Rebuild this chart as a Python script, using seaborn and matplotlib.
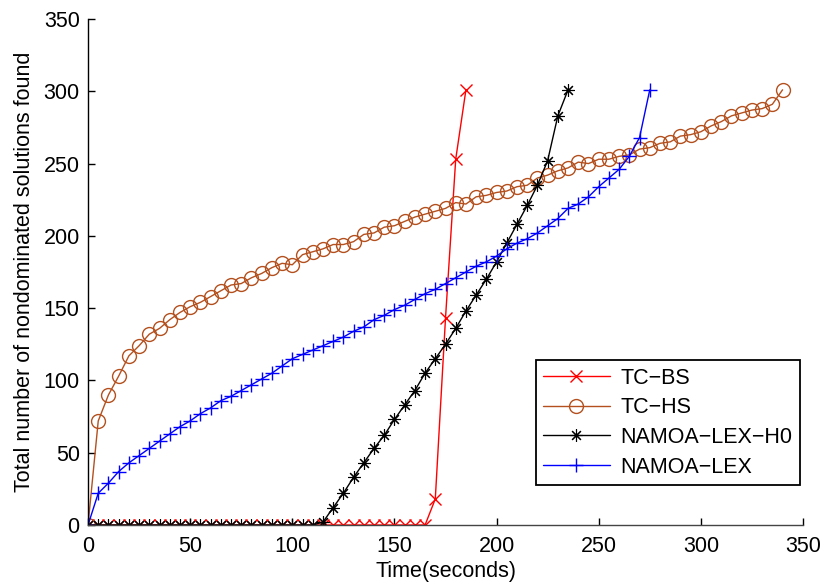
import numpy as np
import matplotlib
matplotlib.use("Agg")
import matplotlib.pyplot as plt
import seaborn as sns

# time axis of each run (sampled every 5 seconds)
tc_bs_time = np.arange(0, 190, 5)
tc_hs_time = np.arange(0, 345, 5)
h0_time = np.arange(0, 240, 5)
lex_time = np.arange(0, 280, 5)

# number of nondominated solutions found
tc_bs_vals = [0] * 34 + [18, 143, 253, 301]

tc_hs_vals = [0, 72, 90, 103, 117, 124, 132, 136, 142, 147,
              151, 154, 158, 162, 166, 167, 171, 174, 178, 181,
              180, 187, 189, 191, 194, 194, 196, 201, 202, 206,
              207, 210, 213, 215, 217, 219, 223, 222, 227, 228,
              230, 231, 234, 235, 240, 242, 245, 247, 251, 250,
              253, 253, 255, 256, 260, 261, 264, 265, 269, 270,
              272, 276, 279, 283, 285, 287, 288, 291, 301]

h0_vals = [0] * 23 + [2, 12, 22, 33, 43, 53, 62, 73, 83, 93,
                      105, 115, 125, 136, 148, 159, 170, 182, 195, 208,
                      221, 235, 252, 283, 301]

lex_vals = [0, 22, 29, 37, 43, 48, 53, 58, 63, 68,
            72, 77, 81, 86, 89, 93, 97, 101, 105, 110,
            115, 118, 121, 124, 127, 130, 134, 137, 142, 145,
            149, 152, 156, 160, 163, 167, 171, 175, 179, 182,
            186, 191, 195, 198, 202, 207, 212, 219, 222, 227,
            234, 240, 246, 255, 268, 301]

sns.set_style("ticks")
plt.rcParams['font.family'] = ['Liberation Sans', 'DejaVu Sans']
plt.rcParams['font.size'] = 15.5
plt.rcParams['text.color'] = 'black'
plt.rcParams['axes.labelcolor'] = 'black'
plt.rcParams['xtick.color'] = 'black'
plt.rcParams['ytick.color'] = 'black'

fig = plt.figure(figsize=(8.25, 5.84), dpi=100)
ax = fig.add_axes([0.1067, 0.101, 0.8666, 0.8665])

brown = '#b4501e'

sns.lineplot(x=tc_bs_time, y=tc_bs_vals, ax=ax, color='red', lw=1,
             marker='x', markersize=8, mec='red', mew=1, label='TC\u2212BS')
sns.lineplot(x=tc_hs_time, y=tc_hs_vals, ax=ax, color=brown, lw=1,
             marker='o', markersize=10, mfc='none', mec=brown, mew=1,
             label='TC\u2212HS')
sns.lineplot(x=h0_time, y=h0_vals, ax=ax, color='black', lw=1,
             marker=(8, 2, 0), markersize=9, mec='black', mew=0.8,
             label='NAMOA\u2212LEX\u2212H0')
sns.lineplot(x=lex_time, y=lex_vals, ax=ax, color='blue', lw=1,
             marker='+', markersize=10, mec='blue', mew=1,
             label='NAMOA\u2212LEX')

ax.set_xlim(0, 350)
ax.set_ylim(0, 350)
ax.set_xticks(np.arange(0, 351, 50))
ax.set_yticks(np.arange(0, 351, 50))
ax.tick_params(direction='in', length=5, width=1, labelsize=15.5, colors='black')
ax.tick_params(axis='x', pad=8)
ax.tick_params(axis='y', pad=6)
sns.despine(ax=ax)
ax.spines['left'].set_linewidth(1)
ax.spines['left'].set_color('black')
ax.spines['bottom'].set_linewidth(1)
ax.spines['bottom'].set_color('#444444')

ax.set_xlabel("Time(seconds)", fontsize=15.5, labelpad=3)
ax.set_ylabel("Total number of nondominated solutions found", fontsize=15.5, labelpad=6)

leg = ax.legend(loc='lower right', bbox_to_anchor=(0.996, 0.079), borderaxespad=0,
                numpoints=1, handlelength=3.1, fontsize=15.5, fancybox=False,
                framealpha=1, edgecolor='black', labelspacing=0.4,
                borderpad=0.35, handletextpad=0.5)
leg.get_frame().set_linewidth(1.3)

fig.savefig("out.png", dpi=100)
